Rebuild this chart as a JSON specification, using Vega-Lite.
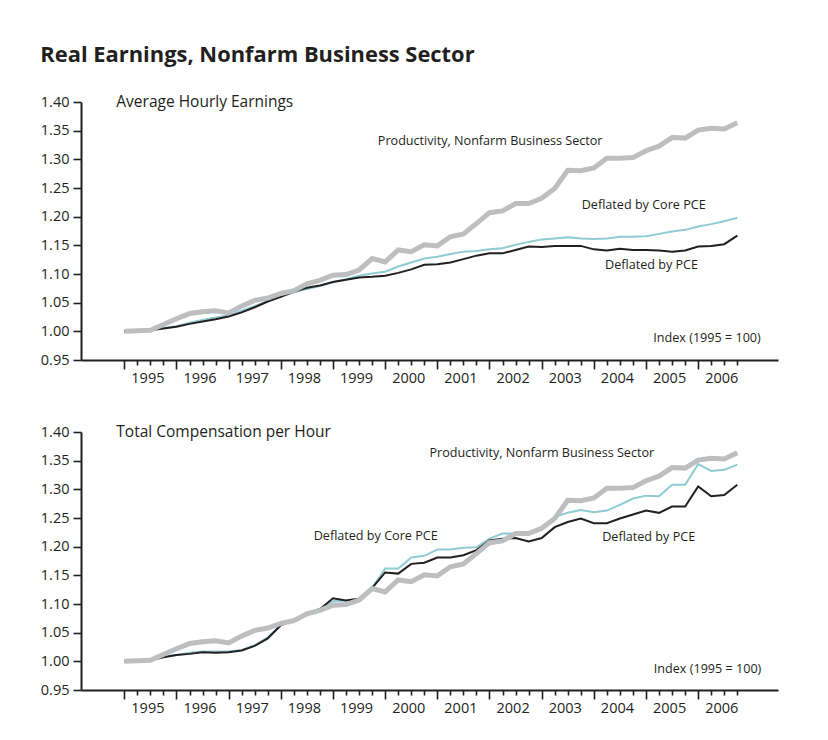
{
  "$schema": "https://vega.github.io/schema/vega-lite/v6.json",
  "background": "white",
  "padding": {"left": 40, "top": 44, "right": 10, "bottom": 10},
  "title": {"text": "Real Earnings, Nonfarm Business Sector", "anchor": "start", "font": "Open Sans", "fontSize": 21.9, "fontWeight": "bold", "color": "#231F20", "baseline": "top", "offset": 27},
  "spacing": 35,
  "datasets": {
    "hourly": [
      {"t":1995,"s":"prod","v":1.000},{"t":1995.25,"s":"prod","v":1.001},{"t":1995.5,"s":"prod","v":1.002},{"t":1995.75,"s":"prod","v":1.012},
      {"t":1996,"s":"prod","v":1.022},{"t":1996.25,"s":"prod","v":1.031},{"t":1996.5,"s":"prod","v":1.034},{"t":1996.75,"s":"prod","v":1.036},
      {"t":1997,"s":"prod","v":1.032},{"t":1997.25,"s":"prod","v":1.044},{"t":1997.5,"s":"prod","v":1.054},{"t":1997.75,"s":"prod","v":1.058},
      {"t":1998,"s":"prod","v":1.066},{"t":1998.25,"s":"prod","v":1.071},{"t":1998.5,"s":"prod","v":1.083},{"t":1998.75,"s":"prod","v":1.089},
      {"t":1999,"s":"prod","v":1.098},{"t":1999.25,"s":"prod","v":1.099},{"t":1999.5,"s":"prod","v":1.107},{"t":1999.75,"s":"prod","v":1.127},
      {"t":2000,"s":"prod","v":1.121},{"t":2000.25,"s":"prod","v":1.142},{"t":2000.5,"s":"prod","v":1.139},{"t":2000.75,"s":"prod","v":1.151},
      {"t":2001,"s":"prod","v":1.149},{"t":2001.25,"s":"prod","v":1.165},{"t":2001.5,"s":"prod","v":1.170},{"t":2001.75,"s":"prod","v":1.188},
      {"t":2002,"s":"prod","v":1.207},{"t":2002.25,"s":"prod","v":1.210},{"t":2002.5,"s":"prod","v":1.223},{"t":2002.75,"s":"prod","v":1.223},
      {"t":2003,"s":"prod","v":1.232},{"t":2003.25,"s":"prod","v":1.249},{"t":2003.5,"s":"prod","v":1.281},{"t":2003.75,"s":"prod","v":1.280},
      {"t":2004,"s":"prod","v":1.285},{"t":2004.25,"s":"prod","v":1.302},{"t":2004.5,"s":"prod","v":1.302},{"t":2004.75,"s":"prod","v":1.303},
      {"t":2005,"s":"prod","v":1.315},{"t":2005.25,"s":"prod","v":1.323},{"t":2005.5,"s":"prod","v":1.338},{"t":2005.75,"s":"prod","v":1.337},
      {"t":2006,"s":"prod","v":1.351},{"t":2006.25,"s":"prod","v":1.354},{"t":2006.5,"s":"prod","v":1.353},{"t":2006.75,"s":"prod","v":1.364},
      {"t":1995,"s":"core","v":1.000},{"t":1995.25,"s":"core","v":1.001},{"t":1995.5,"s":"core","v":1.003},{"t":1995.75,"s":"core","v":1.006},
      {"t":1996,"s":"core","v":1.009},{"t":1996.25,"s":"core","v":1.015},{"t":1996.5,"s":"core","v":1.020},{"t":1996.75,"s":"core","v":1.024},
      {"t":1997,"s":"core","v":1.028},{"t":1997.25,"s":"core","v":1.036},{"t":1997.5,"s":"core","v":1.044},{"t":1997.75,"s":"core","v":1.053},
      {"t":1998,"s":"core","v":1.062},{"t":1998.25,"s":"core","v":1.068},{"t":1998.5,"s":"core","v":1.074},{"t":1998.75,"s":"core","v":1.079},
      {"t":1999,"s":"core","v":1.086},{"t":1999.25,"s":"core","v":1.091},{"t":1999.5,"s":"core","v":1.097},{"t":1999.75,"s":"core","v":1.101},
      {"t":2000,"s":"core","v":1.104},{"t":2000.25,"s":"core","v":1.113},{"t":2000.5,"s":"core","v":1.120},{"t":2000.75,"s":"core","v":1.127},
      {"t":2001,"s":"core","v":1.130},{"t":2001.25,"s":"core","v":1.135},{"t":2001.5,"s":"core","v":1.139},{"t":2001.75,"s":"core","v":1.140},
      {"t":2002,"s":"core","v":1.143},{"t":2002.25,"s":"core","v":1.145},{"t":2002.5,"s":"core","v":1.151},{"t":2002.75,"s":"core","v":1.156},
      {"t":2003,"s":"core","v":1.160},{"t":2003.25,"s":"core","v":1.162},{"t":2003.5,"s":"core","v":1.164},{"t":2003.75,"s":"core","v":1.162},
      {"t":2004,"s":"core","v":1.161},{"t":2004.25,"s":"core","v":1.162},{"t":2004.5,"s":"core","v":1.165},{"t":2004.75,"s":"core","v":1.165},
      {"t":2005,"s":"core","v":1.166},{"t":2005.25,"s":"core","v":1.170},{"t":2005.5,"s":"core","v":1.174},{"t":2005.75,"s":"core","v":1.177},
      {"t":2006,"s":"core","v":1.183},{"t":2006.25,"s":"core","v":1.187},{"t":2006.5,"s":"core","v":1.192},{"t":2006.75,"s":"core","v":1.198},
      {"t":1995,"s":"pce","v":1.000},{"t":1995.25,"s":"pce","v":1.001},{"t":1995.5,"s":"pce","v":1.002},{"t":1995.75,"s":"pce","v":1.005},
      {"t":1996,"s":"pce","v":1.008},{"t":1996.25,"s":"pce","v":1.013},{"t":1996.5,"s":"pce","v":1.017},{"t":1996.75,"s":"pce","v":1.021},
      {"t":1997,"s":"pce","v":1.026},{"t":1997.25,"s":"pce","v":1.033},{"t":1997.5,"s":"pce","v":1.042},{"t":1997.75,"s":"pce","v":1.052},
      {"t":1998,"s":"pce","v":1.060},{"t":1998.25,"s":"pce","v":1.069},{"t":1998.5,"s":"pce","v":1.076},{"t":1998.75,"s":"pce","v":1.080},
      {"t":1999,"s":"pce","v":1.086},{"t":1999.25,"s":"pce","v":1.090},{"t":1999.5,"s":"pce","v":1.094},{"t":1999.75,"s":"pce","v":1.095},
      {"t":2000,"s":"pce","v":1.097},{"t":2000.25,"s":"pce","v":1.102},{"t":2000.5,"s":"pce","v":1.108},{"t":2000.75,"s":"pce","v":1.116},
      {"t":2001,"s":"pce","v":1.117},{"t":2001.25,"s":"pce","v":1.120},{"t":2001.5,"s":"pce","v":1.126},{"t":2001.75,"s":"pce","v":1.132},
      {"t":2002,"s":"pce","v":1.136},{"t":2002.25,"s":"pce","v":1.136},{"t":2002.5,"s":"pce","v":1.142},{"t":2002.75,"s":"pce","v":1.148},
      {"t":2003,"s":"pce","v":1.147},{"t":2003.25,"s":"pce","v":1.149},{"t":2003.5,"s":"pce","v":1.149},{"t":2003.75,"s":"pce","v":1.149},
      {"t":2004,"s":"pce","v":1.143},{"t":2004.25,"s":"pce","v":1.141},{"t":2004.5,"s":"pce","v":1.144},{"t":2004.75,"s":"pce","v":1.142},
      {"t":2005,"s":"pce","v":1.142},{"t":2005.25,"s":"pce","v":1.141},{"t":2005.5,"s":"pce","v":1.139},{"t":2005.75,"s":"pce","v":1.141},
      {"t":2006,"s":"pce","v":1.148},{"t":2006.25,"s":"pce","v":1.149},{"t":2006.5,"s":"pce","v":1.152},{"t":2006.75,"s":"pce","v":1.167}
    ],
    "comp": [
      {"t":1995,"s":"prod","v":1.000},{"t":1995.25,"s":"prod","v":1.001},{"t":1995.5,"s":"prod","v":1.002},{"t":1995.75,"s":"prod","v":1.012},
      {"t":1996,"s":"prod","v":1.022},{"t":1996.25,"s":"prod","v":1.031},{"t":1996.5,"s":"prod","v":1.034},{"t":1996.75,"s":"prod","v":1.036},
      {"t":1997,"s":"prod","v":1.032},{"t":1997.25,"s":"prod","v":1.044},{"t":1997.5,"s":"prod","v":1.054},{"t":1997.75,"s":"prod","v":1.058},
      {"t":1998,"s":"prod","v":1.066},{"t":1998.25,"s":"prod","v":1.071},{"t":1998.5,"s":"prod","v":1.083},{"t":1998.75,"s":"prod","v":1.089},
      {"t":1999,"s":"prod","v":1.098},{"t":1999.25,"s":"prod","v":1.099},{"t":1999.5,"s":"prod","v":1.107},{"t":1999.75,"s":"prod","v":1.127},
      {"t":2000,"s":"prod","v":1.121},{"t":2000.25,"s":"prod","v":1.142},{"t":2000.5,"s":"prod","v":1.139},{"t":2000.75,"s":"prod","v":1.151},
      {"t":2001,"s":"prod","v":1.149},{"t":2001.25,"s":"prod","v":1.165},{"t":2001.5,"s":"prod","v":1.170},{"t":2001.75,"s":"prod","v":1.188},
      {"t":2002,"s":"prod","v":1.207},{"t":2002.25,"s":"prod","v":1.210},{"t":2002.5,"s":"prod","v":1.223},{"t":2002.75,"s":"prod","v":1.223},
      {"t":2003,"s":"prod","v":1.232},{"t":2003.25,"s":"prod","v":1.249},{"t":2003.5,"s":"prod","v":1.281},{"t":2003.75,"s":"prod","v":1.280},
      {"t":2004,"s":"prod","v":1.285},{"t":2004.25,"s":"prod","v":1.302},{"t":2004.5,"s":"prod","v":1.302},{"t":2004.75,"s":"prod","v":1.303},
      {"t":2005,"s":"prod","v":1.315},{"t":2005.25,"s":"prod","v":1.323},{"t":2005.5,"s":"prod","v":1.338},{"t":2005.75,"s":"prod","v":1.337},
      {"t":2006,"s":"prod","v":1.351},{"t":2006.25,"s":"prod","v":1.354},{"t":2006.5,"s":"prod","v":1.353},{"t":2006.75,"s":"prod","v":1.364},
      {"t":1995,"s":"core","v":1.000},{"t":1995.25,"s":"core","v":1.001},{"t":1995.5,"s":"core","v":1.002},{"t":1995.75,"s":"core","v":1.008},
      {"t":1996,"s":"core","v":1.011},{"t":1996.25,"s":"core","v":1.015},{"t":1996.5,"s":"core","v":1.017},{"t":1996.75,"s":"core","v":1.017},
      {"t":1997,"s":"core","v":1.017},{"t":1997.25,"s":"core","v":1.020},{"t":1997.5,"s":"core","v":1.028},{"t":1997.75,"s":"core","v":1.042},
      {"t":1998,"s":"core","v":1.063},{"t":1998.25,"s":"core","v":1.072},{"t":1998.5,"s":"core","v":1.083},{"t":1998.75,"s":"core","v":1.092},
      {"t":1999,"s":"core","v":1.105},{"t":1999.25,"s":"core","v":1.106},{"t":1999.5,"s":"core","v":1.109},{"t":1999.75,"s":"core","v":1.128},
      {"t":2000,"s":"core","v":1.162},{"t":2000.25,"s":"core","v":1.162},{"t":2000.5,"s":"core","v":1.181},{"t":2000.75,"s":"core","v":1.184},
      {"t":2001,"s":"core","v":1.195},{"t":2001.25,"s":"core","v":1.195},{"t":2001.5,"s":"core","v":1.198},{"t":2001.75,"s":"core","v":1.199},
      {"t":2002,"s":"core","v":1.214},{"t":2002.25,"s":"core","v":1.223},{"t":2002.5,"s":"core","v":1.223},{"t":2002.75,"s":"core","v":1.223},
      {"t":2003,"s":"core","v":1.233},{"t":2003.25,"s":"core","v":1.252},{"t":2003.5,"s":"core","v":1.259},{"t":2003.75,"s":"core","v":1.264},
      {"t":2004,"s":"core","v":1.260},{"t":2004.25,"s":"core","v":1.263},{"t":2004.5,"s":"core","v":1.273},{"t":2004.75,"s":"core","v":1.284},
      {"t":2005,"s":"core","v":1.289},{"t":2005.25,"s":"core","v":1.288},{"t":2005.5,"s":"core","v":1.308},{"t":2005.75,"s":"core","v":1.308},
      {"t":2006,"s":"core","v":1.344},{"t":2006.25,"s":"core","v":1.332},{"t":2006.5,"s":"core","v":1.334},{"t":2006.75,"s":"core","v":1.343},
      {"t":1995,"s":"pce","v":1.000},{"t":1995.25,"s":"pce","v":1.001},{"t":1995.5,"s":"pce","v":1.002},{"t":1995.75,"s":"pce","v":1.007},
      {"t":1996,"s":"pce","v":1.011},{"t":1996.25,"s":"pce","v":1.013},{"t":1996.5,"s":"pce","v":1.016},{"t":1996.75,"s":"pce","v":1.015},
      {"t":1997,"s":"pce","v":1.016},{"t":1997.25,"s":"pce","v":1.019},{"t":1997.5,"s":"pce","v":1.027},{"t":1997.75,"s":"pce","v":1.040},
      {"t":1998,"s":"pce","v":1.063},{"t":1998.25,"s":"pce","v":1.073},{"t":1998.5,"s":"pce","v":1.084},{"t":1998.75,"s":"pce","v":1.091},
      {"t":1999,"s":"pce","v":1.110},{"t":1999.25,"s":"pce","v":1.106},{"t":1999.5,"s":"pce","v":1.109},{"t":1999.75,"s":"pce","v":1.128},
      {"t":2000,"s":"pce","v":1.155},{"t":2000.25,"s":"pce","v":1.153},{"t":2000.5,"s":"pce","v":1.170},{"t":2000.75,"s":"pce","v":1.172},
      {"t":2001,"s":"pce","v":1.181},{"t":2001.25,"s":"pce","v":1.181},{"t":2001.5,"s":"pce","v":1.185},{"t":2001.75,"s":"pce","v":1.194},
      {"t":2002,"s":"pce","v":1.211},{"t":2002.25,"s":"pce","v":1.214},{"t":2002.5,"s":"pce","v":1.215},{"t":2002.75,"s":"pce","v":1.209},
      {"t":2003,"s":"pce","v":1.215},{"t":2003.25,"s":"pce","v":1.234},{"t":2003.5,"s":"pce","v":1.243},{"t":2003.75,"s":"pce","v":1.249},
      {"t":2004,"s":"pce","v":1.241},{"t":2004.25,"s":"pce","v":1.241},{"t":2004.5,"s":"pce","v":1.249},{"t":2004.75,"s":"pce","v":1.256},
      {"t":2005,"s":"pce","v":1.263},{"t":2005.25,"s":"pce","v":1.259},{"t":2005.5,"s":"pce","v":1.270},{"t":2005.75,"s":"pce","v":1.270},
      {"t":2006,"s":"pce","v":1.305},{"t":2006.25,"s":"pce","v":1.288},{"t":2006.5,"s":"pce","v":1.290},{"t":2006.75,"s":"pce","v":1.308}
    ],
    "one": [{"n": 1}]
  },
  "vconcat": [
    {
      "width": 697,
      "height": 258,
      "layer": [
        {"data": {"name": "hourly"}, "transform": [{"filter": "datum.s === 'core'"}], "mark": {"type": "line", "color": "#8FCBD4", "strokeWidth": 2},
          "encoding": {
            "x": {"field": "t", "type": "quantitative", "scale": {"domain": [1994.17, 2007.53], "nice": false, "zero": false}, "axis": {"values": [1995,1995.25,1995.5,1995.75,1996,1996.25,1996.5,1996.75,1997,1997.25,1997.5,1997.75,1998,1998.25,1998.5,1998.75,1999,1999.25,1999.5,1999.75,2000,2000.25,2000.5,2000.75,2001,2001.25,2001.5,2001.75,2002,2002.25,2002.5,2002.75,2003,2003.25,2003.5,2003.75,2004,2004.25,2004.5,2004.75,2005,2005.25,2005.5,2005.75,2006,2006.25,2006.5,2006.75], "labelExpr": "(datum.value * 4) % 4 === 2 ? format(floor(datum.value), 'd') : ''", "tickSize": {"condition": {"test": "(datum.value * 4) % 4 === 0", "value": 9}, "value": 5}, "labelPadding": 6, "labelOffset": -3, "labelOverlap": false, "labelFlush": false}},
            "y": {"field": "v", "type": "quantitative", "scale": {"domain": [0.95, 1.4], "nice": false, "zero": false}, "axis": {"values": [0.95,1.0,1.05,1.1,1.15,1.2,1.25,1.3,1.35,1.4], "format": ".2f", "tickSize": 8, "labelPadding": 4, "labelOverlap": false, "labelFlush": false}}
          }},
        {"data": {"name": "hourly"}, "transform": [{"filter": "datum.s === 'pce'"}], "mark": {"type": "line", "color": "#231F20", "strokeWidth": 2},
          "encoding": {
            "x": {"field": "t", "type": "quantitative", "scale": {"domain": [1994.17, 2007.53], "nice": false, "zero": false}, "axis": {"values": [1995,1995.25,1995.5,1995.75,1996,1996.25,1996.5,1996.75,1997,1997.25,1997.5,1997.75,1998,1998.25,1998.5,1998.75,1999,1999.25,1999.5,1999.75,2000,2000.25,2000.5,2000.75,2001,2001.25,2001.5,2001.75,2002,2002.25,2002.5,2002.75,2003,2003.25,2003.5,2003.75,2004,2004.25,2004.5,2004.75,2005,2005.25,2005.5,2005.75,2006,2006.25,2006.5,2006.75], "labelExpr": "(datum.value * 4) % 4 === 2 ? format(floor(datum.value), 'd') : ''", "tickSize": {"condition": {"test": "(datum.value * 4) % 4 === 0", "value": 9}, "value": 5}, "labelPadding": 6, "labelOffset": -3, "labelOverlap": false, "labelFlush": false}},
            "y": {"field": "v", "type": "quantitative", "scale": {"domain": [0.95, 1.4], "nice": false, "zero": false}, "axis": {"values": [0.95,1.0,1.05,1.1,1.15,1.2,1.25,1.3,1.35,1.4], "format": ".2f", "tickSize": 8, "labelPadding": 4, "labelOverlap": false, "labelFlush": false}}
          }},
        {"data": {"name": "hourly"}, "transform": [{"filter": "datum.s === 'prod'"}], "mark": {"type": "line", "color": "#BCBEC0", "strokeWidth": 5},
          "encoding": {
            "x": {"field": "t", "type": "quantitative", "scale": {"domain": [1994.17, 2007.53], "nice": false, "zero": false}, "axis": {"values": [1995,1995.25,1995.5,1995.75,1996,1996.25,1996.5,1996.75,1997,1997.25,1997.5,1997.75,1998,1998.25,1998.5,1998.75,1999,1999.25,1999.5,1999.75,2000,2000.25,2000.5,2000.75,2001,2001.25,2001.5,2001.75,2002,2002.25,2002.5,2002.75,2003,2003.25,2003.5,2003.75,2004,2004.25,2004.5,2004.75,2005,2005.25,2005.5,2005.75,2006,2006.25,2006.5,2006.75], "labelExpr": "(datum.value * 4) % 4 === 2 ? format(floor(datum.value), 'd') : ''", "tickSize": {"condition": {"test": "(datum.value * 4) % 4 === 0", "value": 9}, "value": 5}, "labelPadding": 6, "labelOffset": -3, "labelOverlap": false, "labelFlush": false}},
            "y": {"field": "v", "type": "quantitative", "scale": {"domain": [0.95, 1.4], "nice": false, "zero": false}, "axis": {"values": [0.95,1.0,1.05,1.1,1.15,1.2,1.25,1.3,1.35,1.4], "format": ".2f", "tickSize": 8, "labelPadding": 4, "labelOverlap": false, "labelFlush": false}}
          }},
        {"data": {"name": "one"}, "mark": {"type": "text", "align": "left", "baseline": "middle", "fontSize": 15.5, "font": "Open Sans", "color": "#231F20"},
          "encoding": {
            "x": {"datum": 1994.847, "type": "quantitative", "scale": {"domain": [1994.17, 2007.53], "nice": false, "zero": false}, "axis": {"values": [1995,1995.25,1995.5,1995.75,1996,1996.25,1996.5,1996.75,1997,1997.25,1997.5,1997.75,1998,1998.25,1998.5,1998.75,1999,1999.25,1999.5,1999.75,2000,2000.25,2000.5,2000.75,2001,2001.25,2001.5,2001.75,2002,2002.25,2002.5,2002.75,2003,2003.25,2003.5,2003.75,2004,2004.25,2004.5,2004.75,2005,2005.25,2005.5,2005.75,2006,2006.25,2006.5,2006.75], "labelExpr": "(datum.value * 4) % 4 === 2 ? format(floor(datum.value), 'd') : ''", "tickSize": {"condition": {"test": "(datum.value * 4) % 4 === 0", "value": 9}, "value": 5}, "labelPadding": 6, "labelOffset": -3, "labelOverlap": false, "labelFlush": false}},
            "y": {"datum": 1.4, "type": "quantitative", "scale": {"domain": [0.95, 1.4], "nice": false, "zero": false}, "axis": {"values": [0.95,1.0,1.05,1.1,1.15,1.2,1.25,1.3,1.35,1.4], "format": ".2f", "tickSize": 8, "labelPadding": 4, "labelOverlap": false, "labelFlush": false}},
            "text": {"value": "Average Hourly Earnings"}}},
        {"data": {"name": "one"}, "mark": {"type": "text", "align": "left", "baseline": "middle", "fontSize": 12.6, "font": "Open Sans", "color": "#231F20"},
          "encoding": {
            "x": {"datum": 1999.86, "type": "quantitative", "scale": {"domain": [1994.17, 2007.53], "nice": false, "zero": false}, "axis": {"values": [1995,1995.25,1995.5,1995.75,1996,1996.25,1996.5,1996.75,1997,1997.25,1997.5,1997.75,1998,1998.25,1998.5,1998.75,1999,1999.25,1999.5,1999.75,2000,2000.25,2000.5,2000.75,2001,2001.25,2001.5,2001.75,2002,2002.25,2002.5,2002.75,2003,2003.25,2003.5,2003.75,2004,2004.25,2004.5,2004.75,2005,2005.25,2005.5,2005.75,2006,2006.25,2006.5,2006.75], "labelExpr": "(datum.value * 4) % 4 === 2 ? format(floor(datum.value), 'd') : ''", "tickSize": {"condition": {"test": "(datum.value * 4) % 4 === 0", "value": 9}, "value": 5}, "labelPadding": 6, "labelOffset": -3, "labelOverlap": false, "labelFlush": false}},
            "y": {"datum": 1.332, "type": "quantitative", "scale": {"domain": [0.95, 1.4], "nice": false, "zero": false}, "axis": {"values": [0.95,1.0,1.05,1.1,1.15,1.2,1.25,1.3,1.35,1.4], "format": ".2f", "tickSize": 8, "labelPadding": 4, "labelOverlap": false, "labelFlush": false}},
            "text": {"value": "Productivity, Nonfarm Business Sector"}}},
        {"data": {"name": "one"}, "mark": {"type": "text", "align": "left", "baseline": "middle", "fontSize": 12.6, "font": "Open Sans", "color": "#231F20"},
          "encoding": {
            "x": {"datum": 2003.768, "type": "quantitative", "scale": {"domain": [1994.17, 2007.53], "nice": false, "zero": false}, "axis": {"values": [1995,1995.25,1995.5,1995.75,1996,1996.25,1996.5,1996.75,1997,1997.25,1997.5,1997.75,1998,1998.25,1998.5,1998.75,1999,1999.25,1999.5,1999.75,2000,2000.25,2000.5,2000.75,2001,2001.25,2001.5,2001.75,2002,2002.25,2002.5,2002.75,2003,2003.25,2003.5,2003.75,2004,2004.25,2004.5,2004.75,2005,2005.25,2005.5,2005.75,2006,2006.25,2006.5,2006.75], "labelExpr": "(datum.value * 4) % 4 === 2 ? format(floor(datum.value), 'd') : ''", "tickSize": {"condition": {"test": "(datum.value * 4) % 4 === 0", "value": 9}, "value": 5}, "labelPadding": 6, "labelOffset": -3, "labelOverlap": false, "labelFlush": false}},
            "y": {"datum": 1.2203, "type": "quantitative", "scale": {"domain": [0.95, 1.4], "nice": false, "zero": false}, "axis": {"values": [0.95,1.0,1.05,1.1,1.15,1.2,1.25,1.3,1.35,1.4], "format": ".2f", "tickSize": 8, "labelPadding": 4, "labelOverlap": false, "labelFlush": false}},
            "text": {"value": "Deflated by Core PCE"}}},
        {"data": {"name": "one"}, "mark": {"type": "text", "align": "left", "baseline": "middle", "fontSize": 12.6, "font": "Open Sans", "color": "#231F20"},
          "encoding": {
            "x": {"datum": 2004.215, "type": "quantitative", "scale": {"domain": [1994.17, 2007.53], "nice": false, "zero": false}, "axis": {"values": [1995,1995.25,1995.5,1995.75,1996,1996.25,1996.5,1996.75,1997,1997.25,1997.5,1997.75,1998,1998.25,1998.5,1998.75,1999,1999.25,1999.5,1999.75,2000,2000.25,2000.5,2000.75,2001,2001.25,2001.5,2001.75,2002,2002.25,2002.5,2002.75,2003,2003.25,2003.5,2003.75,2004,2004.25,2004.5,2004.75,2005,2005.25,2005.5,2005.75,2006,2006.25,2006.5,2006.75], "labelExpr": "(datum.value * 4) % 4 === 2 ? format(floor(datum.value), 'd') : ''", "tickSize": {"condition": {"test": "(datum.value * 4) % 4 === 0", "value": 9}, "value": 5}, "labelPadding": 6, "labelOffset": -3, "labelOverlap": false, "labelFlush": false}},
            "y": {"datum": 1.1157, "type": "quantitative", "scale": {"domain": [0.95, 1.4], "nice": false, "zero": false}, "axis": {"values": [0.95,1.0,1.05,1.1,1.15,1.2,1.25,1.3,1.35,1.4], "format": ".2f", "tickSize": 8, "labelPadding": 4, "labelOverlap": false, "labelFlush": false}},
            "text": {"value": "Deflated by PCE"}}},
        {"data": {"name": "one"}, "mark": {"type": "text", "align": "left", "baseline": "middle", "fontSize": 12.6, "font": "Open Sans", "color": "#231F20"},
          "encoding": {
            "x": {"datum": 2005.14, "type": "quantitative", "scale": {"domain": [1994.17, 2007.53], "nice": false, "zero": false}, "axis": {"values": [1995,1995.25,1995.5,1995.75,1996,1996.25,1996.5,1996.75,1997,1997.25,1997.5,1997.75,1998,1998.25,1998.5,1998.75,1999,1999.25,1999.5,1999.75,2000,2000.25,2000.5,2000.75,2001,2001.25,2001.5,2001.75,2002,2002.25,2002.5,2002.75,2003,2003.25,2003.5,2003.75,2004,2004.25,2004.5,2004.75,2005,2005.25,2005.5,2005.75,2006,2006.25,2006.5,2006.75], "labelExpr": "(datum.value * 4) % 4 === 2 ? format(floor(datum.value), 'd') : ''", "tickSize": {"condition": {"test": "(datum.value * 4) % 4 === 0", "value": 9}, "value": 5}, "labelPadding": 6, "labelOffset": -3, "labelOverlap": false, "labelFlush": false}},
            "y": {"datum": 0.9878, "type": "quantitative", "scale": {"domain": [0.95, 1.4], "nice": false, "zero": false}, "axis": {"values": [0.95,1.0,1.05,1.1,1.15,1.2,1.25,1.3,1.35,1.4], "format": ".2f", "tickSize": 8, "labelPadding": 4, "labelOverlap": false, "labelFlush": false}},
            "text": {"value": "Index (1995 = 100)"}}}
      ]
    },
    {
      "width": 697,
      "height": 258,
      "layer": [
        {"data": {"name": "comp"}, "transform": [{"filter": "datum.s === 'core'"}], "mark": {"type": "line", "color": "#8FCBD4", "strokeWidth": 2},
          "encoding": {
            "x": {"field": "t", "type": "quantitative", "scale": {"domain": [1994.17, 2007.53], "nice": false, "zero": false}, "axis": {"values": [1995,1995.25,1995.5,1995.75,1996,1996.25,1996.5,1996.75,1997,1997.25,1997.5,1997.75,1998,1998.25,1998.5,1998.75,1999,1999.25,1999.5,1999.75,2000,2000.25,2000.5,2000.75,2001,2001.25,2001.5,2001.75,2002,2002.25,2002.5,2002.75,2003,2003.25,2003.5,2003.75,2004,2004.25,2004.5,2004.75,2005,2005.25,2005.5,2005.75,2006,2006.25,2006.5,2006.75], "labelExpr": "(datum.value * 4) % 4 === 2 ? format(floor(datum.value), 'd') : ''", "tickSize": {"condition": {"test": "(datum.value * 4) % 4 === 0", "value": 9}, "value": 5}, "labelPadding": 6, "labelOffset": -3, "labelOverlap": false, "labelFlush": false}},
            "y": {"field": "v", "type": "quantitative", "scale": {"domain": [0.95, 1.4], "nice": false, "zero": false}, "axis": {"values": [0.95,1.0,1.05,1.1,1.15,1.2,1.25,1.3,1.35,1.4], "format": ".2f", "tickSize": 8, "labelPadding": 4, "labelOverlap": false, "labelFlush": false}}
          }},
        {"data": {"name": "comp"}, "transform": [{"filter": "datum.s === 'pce'"}], "mark": {"type": "line", "color": "#231F20", "strokeWidth": 2},
          "encoding": {
            "x": {"field": "t", "type": "quantitative", "scale": {"domain": [1994.17, 2007.53], "nice": false, "zero": false}, "axis": {"values": [1995,1995.25,1995.5,1995.75,1996,1996.25,1996.5,1996.75,1997,1997.25,1997.5,1997.75,1998,1998.25,1998.5,1998.75,1999,1999.25,1999.5,1999.75,2000,2000.25,2000.5,2000.75,2001,2001.25,2001.5,2001.75,2002,2002.25,2002.5,2002.75,2003,2003.25,2003.5,2003.75,2004,2004.25,2004.5,2004.75,2005,2005.25,2005.5,2005.75,2006,2006.25,2006.5,2006.75], "labelExpr": "(datum.value * 4) % 4 === 2 ? format(floor(datum.value), 'd') : ''", "tickSize": {"condition": {"test": "(datum.value * 4) % 4 === 0", "value": 9}, "value": 5}, "labelPadding": 6, "labelOffset": -3, "labelOverlap": false, "labelFlush": false}},
            "y": {"field": "v", "type": "quantitative", "scale": {"domain": [0.95, 1.4], "nice": false, "zero": false}, "axis": {"values": [0.95,1.0,1.05,1.1,1.15,1.2,1.25,1.3,1.35,1.4], "format": ".2f", "tickSize": 8, "labelPadding": 4, "labelOverlap": false, "labelFlush": false}}
          }},
        {"data": {"name": "comp"}, "transform": [{"filter": "datum.s === 'prod'"}], "mark": {"type": "line", "color": "#BCBEC0", "strokeWidth": 5},
          "encoding": {
            "x": {"field": "t", "type": "quantitative", "scale": {"domain": [1994.17, 2007.53], "nice": false, "zero": false}, "axis": {"values": [1995,1995.25,1995.5,1995.75,1996,1996.25,1996.5,1996.75,1997,1997.25,1997.5,1997.75,1998,1998.25,1998.5,1998.75,1999,1999.25,1999.5,1999.75,2000,2000.25,2000.5,2000.75,2001,2001.25,2001.5,2001.75,2002,2002.25,2002.5,2002.75,2003,2003.25,2003.5,2003.75,2004,2004.25,2004.5,2004.75,2005,2005.25,2005.5,2005.75,2006,2006.25,2006.5,2006.75], "labelExpr": "(datum.value * 4) % 4 === 2 ? format(floor(datum.value), 'd') : ''", "tickSize": {"condition": {"test": "(datum.value * 4) % 4 === 0", "value": 9}, "value": 5}, "labelPadding": 6, "labelOffset": -3, "labelOverlap": false, "labelFlush": false}},
            "y": {"field": "v", "type": "quantitative", "scale": {"domain": [0.95, 1.4], "nice": false, "zero": false}, "axis": {"values": [0.95,1.0,1.05,1.1,1.15,1.2,1.25,1.3,1.35,1.4], "format": ".2f", "tickSize": 8, "labelPadding": 4, "labelOverlap": false, "labelFlush": false}}
          }},
        {"data": {"name": "one"}, "mark": {"type": "text", "align": "left", "baseline": "middle", "fontSize": 15.5, "font": "Open Sans", "color": "#231F20"},
          "encoding": {
            "x": {"datum": 1994.847, "type": "quantitative", "scale": {"domain": [1994.17, 2007.53], "nice": false, "zero": false}, "axis": {"values": [1995,1995.25,1995.5,1995.75,1996,1996.25,1996.5,1996.75,1997,1997.25,1997.5,1997.75,1998,1998.25,1998.5,1998.75,1999,1999.25,1999.5,1999.75,2000,2000.25,2000.5,2000.75,2001,2001.25,2001.5,2001.75,2002,2002.25,2002.5,2002.75,2003,2003.25,2003.5,2003.75,2004,2004.25,2004.5,2004.75,2005,2005.25,2005.5,2005.75,2006,2006.25,2006.5,2006.75], "labelExpr": "(datum.value * 4) % 4 === 2 ? format(floor(datum.value), 'd') : ''", "tickSize": {"condition": {"test": "(datum.value * 4) % 4 === 0", "value": 9}, "value": 5}, "labelPadding": 6, "labelOffset": -3, "labelOverlap": false, "labelFlush": false}},
            "y": {"datum": 1.4, "type": "quantitative", "scale": {"domain": [0.95, 1.4], "nice": false, "zero": false}, "axis": {"values": [0.95,1.0,1.05,1.1,1.15,1.2,1.25,1.3,1.35,1.4], "format": ".2f", "tickSize": 8, "labelPadding": 4, "labelOverlap": false, "labelFlush": false}},
            "text": {"value": "Total Compensation per Hour"}}},
        {"data": {"name": "one"}, "mark": {"type": "text", "align": "left", "baseline": "middle", "fontSize": 12.6, "font": "Open Sans", "color": "#231F20"},
          "encoding": {
            "x": {"datum": 2000.85, "type": "quantitative", "scale": {"domain": [1994.17, 2007.53], "nice": false, "zero": false}, "axis": {"values": [1995,1995.25,1995.5,1995.75,1996,1996.25,1996.5,1996.75,1997,1997.25,1997.5,1997.75,1998,1998.25,1998.5,1998.75,1999,1999.25,1999.5,1999.75,2000,2000.25,2000.5,2000.75,2001,2001.25,2001.5,2001.75,2002,2002.25,2002.5,2002.75,2003,2003.25,2003.5,2003.75,2004,2004.25,2004.5,2004.75,2005,2005.25,2005.5,2005.75,2006,2006.25,2006.5,2006.75], "labelExpr": "(datum.value * 4) % 4 === 2 ? format(floor(datum.value), 'd') : ''", "tickSize": {"condition": {"test": "(datum.value * 4) % 4 === 0", "value": 9}, "value": 5}, "labelPadding": 6, "labelOffset": -3, "labelOverlap": false, "labelFlush": false}},
            "y": {"datum": 1.3642, "type": "quantitative", "scale": {"domain": [0.95, 1.4], "nice": false, "zero": false}, "axis": {"values": [0.95,1.0,1.05,1.1,1.15,1.2,1.25,1.3,1.35,1.4], "format": ".2f", "tickSize": 8, "labelPadding": 4, "labelOverlap": false, "labelFlush": false}},
            "text": {"value": "Productivity, Nonfarm Business Sector"}}},
        {"data": {"name": "one"}, "mark": {"type": "text", "align": "left", "baseline": "middle", "fontSize": 12.6, "font": "Open Sans", "color": "#231F20"},
          "encoding": {
            "x": {"datum": 1998.63, "type": "quantitative", "scale": {"domain": [1994.17, 2007.53], "nice": false, "zero": false}, "axis": {"values": [1995,1995.25,1995.5,1995.75,1996,1996.25,1996.5,1996.75,1997,1997.25,1997.5,1997.75,1998,1998.25,1998.5,1998.75,1999,1999.25,1999.5,1999.75,2000,2000.25,2000.5,2000.75,2001,2001.25,2001.5,2001.75,2002,2002.25,2002.5,2002.75,2003,2003.25,2003.5,2003.75,2004,2004.25,2004.5,2004.75,2005,2005.25,2005.5,2005.75,2006,2006.25,2006.5,2006.75], "labelExpr": "(datum.value * 4) % 4 === 2 ? format(floor(datum.value), 'd') : ''", "tickSize": {"condition": {"test": "(datum.value * 4) % 4 === 0", "value": 9}, "value": 5}, "labelPadding": 6, "labelOffset": -3, "labelOverlap": false, "labelFlush": false}},
            "y": {"datum": 1.2187, "type": "quantitative", "scale": {"domain": [0.95, 1.4], "nice": false, "zero": false}, "axis": {"values": [0.95,1.0,1.05,1.1,1.15,1.2,1.25,1.3,1.35,1.4], "format": ".2f", "tickSize": 8, "labelPadding": 4, "labelOverlap": false, "labelFlush": false}},
            "text": {"value": "Deflated by Core PCE"}}},
        {"data": {"name": "one"}, "mark": {"type": "text", "align": "left", "baseline": "middle", "fontSize": 12.6, "font": "Open Sans", "color": "#231F20"},
          "encoding": {
            "x": {"datum": 2004.16, "type": "quantitative", "scale": {"domain": [1994.17, 2007.53], "nice": false, "zero": false}, "axis": {"values": [1995,1995.25,1995.5,1995.75,1996,1996.25,1996.5,1996.75,1997,1997.25,1997.5,1997.75,1998,1998.25,1998.5,1998.75,1999,1999.25,1999.5,1999.75,2000,2000.25,2000.5,2000.75,2001,2001.25,2001.5,2001.75,2002,2002.25,2002.5,2002.75,2003,2003.25,2003.5,2003.75,2004,2004.25,2004.5,2004.75,2005,2005.25,2005.5,2005.75,2006,2006.25,2006.5,2006.75], "labelExpr": "(datum.value * 4) % 4 === 2 ? format(floor(datum.value), 'd') : ''", "tickSize": {"condition": {"test": "(datum.value * 4) % 4 === 0", "value": 9}, "value": 5}, "labelPadding": 6, "labelOffset": -3, "labelOverlap": false, "labelFlush": false}},
            "y": {"datum": 1.2168, "type": "quantitative", "scale": {"domain": [0.95, 1.4], "nice": false, "zero": false}, "axis": {"values": [0.95,1.0,1.05,1.1,1.15,1.2,1.25,1.3,1.35,1.4], "format": ".2f", "tickSize": 8, "labelPadding": 4, "labelOverlap": false, "labelFlush": false}},
            "text": {"value": "Deflated by PCE"}}},
        {"data": {"name": "one"}, "mark": {"type": "text", "align": "left", "baseline": "middle", "fontSize": 12.6, "font": "Open Sans", "color": "#231F20"},
          "encoding": {
            "x": {"datum": 2005.15, "type": "quantitative", "scale": {"domain": [1994.17, 2007.53], "nice": false, "zero": false}, "axis": {"values": [1995,1995.25,1995.5,1995.75,1996,1996.25,1996.5,1996.75,1997,1997.25,1997.5,1997.75,1998,1998.25,1998.5,1998.75,1999,1999.25,1999.5,1999.75,2000,2000.25,2000.5,2000.75,2001,2001.25,2001.5,2001.75,2002,2002.25,2002.5,2002.75,2003,2003.25,2003.5,2003.75,2004,2004.25,2004.5,2004.75,2005,2005.25,2005.5,2005.75,2006,2006.25,2006.5,2006.75], "labelExpr": "(datum.value * 4) % 4 === 2 ? format(floor(datum.value), 'd') : ''", "tickSize": {"condition": {"test": "(datum.value * 4) % 4 === 0", "value": 9}, "value": 5}, "labelPadding": 6, "labelOffset": -3, "labelOverlap": false, "labelFlush": false}},
            "y": {"datum": 0.9875, "type": "quantitative", "scale": {"domain": [0.95, 1.4], "nice": false, "zero": false}, "axis": {"values": [0.95,1.0,1.05,1.1,1.15,1.2,1.25,1.3,1.35,1.4], "format": ".2f", "tickSize": 8, "labelPadding": 4, "labelOverlap": false, "labelFlush": false}},
            "text": {"value": "Index (1995 = 100)"}}}
      ]
    }
  ],
  "config": {
    "font": "Open Sans",
    "view": {"stroke": null},
    "axis": {"title": null, "grid": false, "labelFont": "Open Sans", "labelFontSize": 14.5, "labelColor": "#231F20", "domainColor": "#231F20", "tickColor": "#231F20", "domainWidth": 2, "tickWidth": 1.6}
  }
}
